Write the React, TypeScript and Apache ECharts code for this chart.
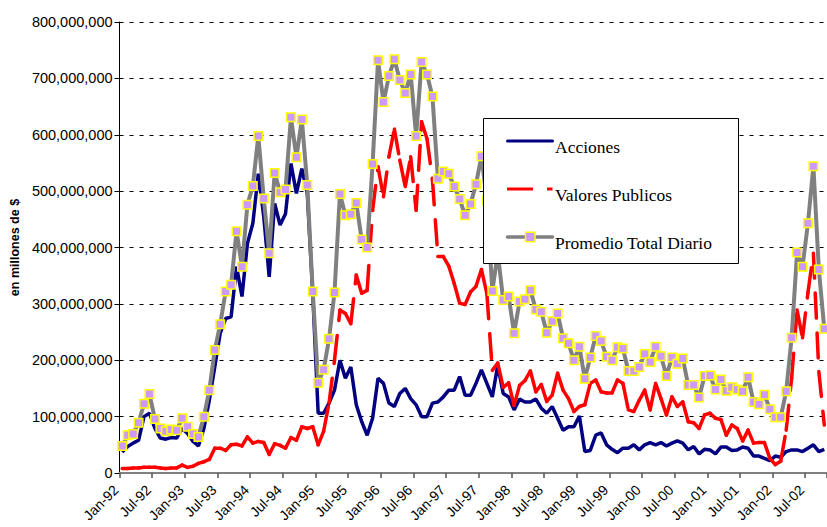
import React, { useEffect, useRef } from "react";
import * as echarts from "echarts";

// Monthly categories Jan-92 .. Oct-02
const MONTH_NAMES = ["Jan", "Feb", "Mar", "Apr", "May", "Jun", "Jul", "Aug", "Sep", "Oct", "Nov", "Dec"];
const YEARS = ["92", "93", "94", "95", "96", "97", "98", "99", "00", "01", "02"];
const LAST_YEAR_MONTHS = 10;
const categories: string[] = [];
YEARS.forEach((y, yi) => {
  const n = yi === YEARS.length - 1 ? LAST_YEAR_MONTHS : 12;
  for (let m = 0; m < n; m++) categories.push(`${MONTH_NAMES[m]}-${y}`);
});

// values in millions of $
const acciones = [
  37, 47, 53, 58, 100, 106, 79, 62, 60, 63, 62, 79,
  70, 56, 48, 79, 129, 188, 248, 274, 277, 366, 313, 407,
  443, 531, 455, 348, 478, 440, 460, 549, 496, 540, 496, 319,
  106, 106, 124, 147, 200, 168, 188, 121, 91, 67, 97, 168,
  159, 124, 118, 141, 150, 132, 121, 100, 100, 124, 126, 135,
  147, 147, 171, 138, 138, 159, 183, 159, 135, 191, 141, 135,
  112, 131, 126, 126, 131, 115, 106, 118, 97, 76, 82, 82,
  101, 38, 40, 67, 71, 50, 42, 36, 44, 44, 50, 41,
  50, 54, 50, 54, 48, 53, 57, 53, 41, 47, 34, 42,
  41, 34, 46, 46, 40, 41, 46, 44, 30, 30, 26, 22,
  30, 28, 38, 41, 41, 38, 44, 50, 38, 42,
];

const valoresPublicos = [
  8, 8, 9, 9, 10, 10, 10, 9, 8, 9, 9, 14,
  10, 12, 17, 20, 24, 44, 44, 40, 50, 51, 48, 64,
  53, 56, 54, 33, 52, 49, 44, 63, 58, 82, 79, 82,
  50, 74, 124, 200, 289, 283, 265, 351, 319, 324, 466, 543,
  490, 561, 610, 555, 508, 561, 466, 623, 593, 520, 384, 384,
  367, 336, 301, 299, 321, 331, 361, 318, 182, 195, 152, 160,
  120, 155, 164, 181, 144, 157, 127, 138, 177, 147, 132, 109,
  118, 121, 159, 165, 144, 142, 142, 165, 159, 112, 109, 129,
  147, 112, 159, 132, 103, 135, 118, 126, 91, 89, 79, 103,
  106, 97, 95, 67, 85, 79, 57, 76, 53, 54, 54, 26,
  15, 21, 76, 168, 289, 240, 320, 390, 180, 85,
];

const promedioTotalDiario = [
  48, 67, 69, 89, 123, 140, 96, 79, 74, 77, 76, 97,
  82, 69, 64, 100, 147, 218, 264, 322, 334, 429, 366, 476,
  509, 598, 487, 390, 532, 498, 503, 631, 560, 627, 511, 322,
  160, 183, 238, 320, 495, 457, 459, 479, 414, 400, 548, 732,
  658, 704, 734, 697, 674, 707, 598, 729, 707, 668, 522, 535,
  531, 508, 486, 457, 477, 512, 562, 484, 323, 390, 307, 313,
  248, 304, 308, 324, 290, 286, 249, 269, 283, 239, 230, 200,
  224, 167, 205, 243, 234, 206, 200, 223, 221, 181, 181, 188,
  211, 197, 224, 207, 172, 205, 194, 203, 156, 156, 134, 172,
  173, 148, 166, 146, 152, 148, 145, 170, 126, 122, 139, 113,
  99, 99, 145, 240, 391, 366, 443, 544, 361, 256,
];

const SERIES_NAMES = ["Acciones", "Valores Publicos", "Promedio Total Diario"];
const Y_MAX = 800;
const Y_STEP = 100;

const BLUE = "#000080";
const RED = "#FF0000";
const GRAY = "#808080";
const LAVENDER = "#CC99FF";
const YELLOW = "#FFFF00";

export default function App() {
  const ref = useRef<HTMLDivElement>(null);

  useEffect(() => {
    if (!ref.current) return;
    const chart = echarts.init(ref.current, undefined, { renderer: "svg" });

    const legendLeft = 483.5;
    const legendTop = 118.5;
    const rowY = [141, 189, 237];
    const textX = 555;
    const LZ = 100;

    const option: any = {
      animation: false,
      backgroundColor: "#ffffff",
      grid: { left: 117, top: 22, width: 712, height: 451, containLabel: false },
      xAxis: {
        type: "category",
        data: categories,
        boundaryGap: true,
        axisLine: { show: true, lineStyle: { color: GRAY, width: 2 } },
        axisTick: { show: true, interval: 5, length: 5, lineStyle: { color: "#555", width: 1.5 } },
        axisLabel: {
          interval: 5,
          rotate: 45,
          margin: 8,
          padding: [0, 9, 0, 0],
          fontSize: 14,
          color: "#000",
          fontFamily: "Liberation Sans, Arial, sans-serif",
        },
        splitLine: { show: false },
      },
      yAxis: {
        type: "value",
        min: 0,
        max: Y_MAX,
        interval: Y_STEP,
        name: "en millones de $",
        nameLocation: "middle",
        nameGap: 92,
        nameRotate: 90,
        nameTextStyle: {
          fontSize: 12.5,
          fontWeight: "bold",
          color: "#000",
          fontFamily: "Liberation Sans, Arial, sans-serif",
        },
        axisLine: { show: true, lineStyle: { color: "#000", width: 1 } },
        axisTick: { show: true, length: 5, lineStyle: { color: "#000" } },
        axisLabel: {
          fontSize: 14.5,
          margin: 7,
          color: "#000",
          fontFamily: "Liberation Sans, Arial, sans-serif",
          formatter: (v: number) => (v * 1e6).toLocaleString("en-US"),
        },
        splitLine: { show: true, lineStyle: { color: "#000", width: 1, type: [4, 6] } },
      },
      series: [
        {
          name: SERIES_NAMES[0],
          type: "line",
          data: acciones,
          symbol: "none",
          lineStyle: { color: BLUE, width: 3.5 },
          itemStyle: { color: BLUE },
          z: 2,
        },
        {
          name: SERIES_NAMES[1],
          type: "custom",
          data: valoresPublicos.map((v, i) => [i, v]),
          encode: { x: 0, y: 1 },
          clip: true,
          z: 3,
          renderItem: (params: any, api: any) => {
            const i = params.dataIndex;
            if (i >= valoresPublicos.length - 1) return null;
            const p0 = api.coord([i, valoresPublicos[i]]);
            const p1 = api.coord([i + 1, valoresPublicos[i + 1]]);
            return {
              type: "line",
              shape: { x1: p0[0], y1: p0[1], x2: p1[0], y2: p1[1] },
              style: { stroke: RED, lineWidth: 3.5, lineDash: [25, 15], lineCap: "round" },
            };
          },
        },
        {
          name: SERIES_NAMES[2],
          type: "line",
          data: promedioTotalDiario,
          symbol: "rect",
          symbolSize: 8.5,
          showAllSymbol: true,
          lineStyle: { color: GRAY, width: 4 },
          itemStyle: { color: LAVENDER, borderColor: YELLOW, borderWidth: 1.5 },
          z: 4,
        },
      ],
      graphic: [
        {
          type: "rect",
          z: LZ,
          shape: { x: legendLeft, y: legendTop, width: 255, height: 145 },
          style: { fill: "#ffffff", stroke: "#000", lineWidth: 1 },
        },
        {
          type: "line",
          z: LZ + 1,
          shape: { x1: 507.5, y1: rowY[0], x2: 552.5, y2: rowY[0] },
          style: { stroke: BLUE, lineWidth: 3, lineCap: "round" },
        },
        {
          type: "line",
          z: LZ + 1,
          shape: { x1: 507, y1: rowY[1], x2: 552.5, y2: rowY[1] },
          style: { stroke: RED, lineWidth: 3, lineDash: [26, 14] },
        },
        {
          type: "line",
          z: LZ + 1,
          shape: { x1: 507.5, y1: rowY[2], x2: 552.5, y2: rowY[2] },
          style: { stroke: GRAY, lineWidth: 3.5, lineCap: "round" },
        },
        {
          type: "rect",
          z: LZ + 2,
          shape: { x: 525.5, y: rowY[2] - 4.75, width: 9.5, height: 9.5 },
          style: { fill: LAVENDER, stroke: YELLOW, lineWidth: 1.5 },
        },
        ...SERIES_NAMES.map((name, k) => ({
          type: "text",
          z: LZ + 2,
          x: textX,
          y: rowY[k] + 6,
          style: {
            text: name,
            fill: "#000",
            fontSize: 17.5,
            fontFamily: "Liberation Serif, Times New Roman, serif",
            verticalAlign: "middle",
            align: "left",
          },
        })),
      ],
    };

    chart.setOption(option);
    return () => chart.dispose();
  }, []);

  return (
    <div
      ref={ref}
      style={{ position: "fixed", left: 0, top: 0, width: 827, height: 527, background: "#fff" }}
    />
  );
}
